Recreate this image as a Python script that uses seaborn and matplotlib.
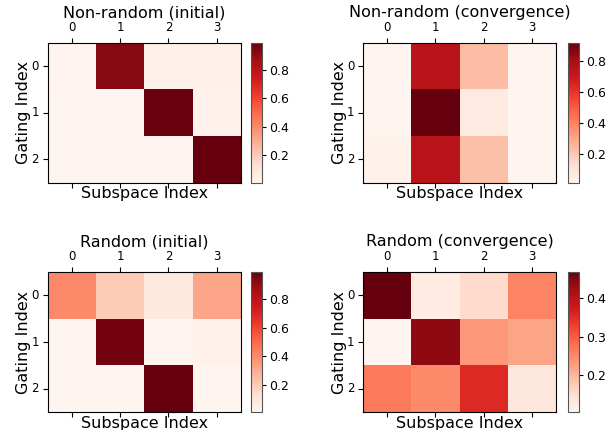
import numpy as np
import pandas as pd
import seaborn as sns
import matplotlib
matplotlib.use("Agg")
import matplotlib.pyplot as plt

subspaces = ["0", "1", "2", "3"]
gates = ["0", "1", "2"]

nonrandom_initial = [
    [0.010, 0.930, 0.030, 0.030],
    [0.004, 0.004, 0.990, 0.020],
    [0.003, 0.003, 0.004, 0.995],
]
nonrandom_convergence = [
    [0.012, 0.745, 0.235, 0.015],
    [0.015, 0.920, 0.070, 0.012],
    [0.030, 0.745, 0.226, 0.015],
]
random_initial = [
    [0.400, 0.200, 0.080, 0.320],
    [0.010, 0.960, 0.010, 0.030],
    [0.008, 0.008, 0.990, 0.010],
]
random_convergence = [
    [0.467, 0.127, 0.156, 0.257],
    [0.105, 0.438, 0.235, 0.221],
    [0.268, 0.250, 0.355, 0.134],
]

titles = ["Non-random (initial)", "Non-random (convergence)",
          "Random (initial)", "Random (convergence)"]
matrices = [nonrandom_initial, nonrandom_convergence, random_initial, random_convergence]

fig = plt.figure(figsize=(6.09, 4.30), dpi=100)

W, H = 609, 430
def frac(x0, y0, x1, y1):
    return [x0 / W, 1 - y1 / H, (x1 - x0) / W, (y1 - y0) / H]

boxes = [
    (48, 42.7, 240.7, 182.7, 250.7, 262),
    (363.3, 42.7, 555.7, 182.7, 567.7, 579),
    (48, 271.7, 240.7, 412.3, 250.7, 262),
    (363.3, 271.7, 555.7, 412.3, 567.7, 579),
]

for mat, title, (x0, y0, x1, y1, c0, c1) in zip(matrices, titles, boxes):
    ax = fig.add_axes(frac(x0, y0, x1, y1))
    cax = fig.add_axes(frac(c0, y0, c1, y1))
    df = pd.DataFrame(mat, index=gates, columns=subspaces)
    sns.heatmap(df, ax=ax, cbar_ax=cax, cmap="Reds", linewidths=0)
    for s in ax.spines.values():
        s.set_visible(True)
        s.set_linewidth(0.8)
        s.set_color("black")
    ax.xaxis.tick_top()
    ax.tick_params(axis="x", top=True, bottom=True, labeltop=True, labelbottom=False,
                   labelsize=8.5, length=3.5, pad=2.5)
    ax.tick_params(axis="y", left=True, labelsize=8.5, length=3.5, pad=3)
    ax.set_xticklabels(subspaces, rotation=0)
    ax.set_yticklabels(gates, rotation=0, va="center")
    ax.set_title(title, fontsize=11.5, pad=3)
    ax.set_xlabel("Subspace Index", fontsize=11.5, labelpad=-1)
    ax.xaxis.set_label_position("bottom")
    ax.set_ylabel("Gating Index", fontsize=11.5, labelpad=0)
    cb = ax.collections[0].colorbar
    cb.outline.set_visible(True)
    cb.outline.set_linewidth(0.8)
    cb.outline.set_edgecolor("#555555")
    cax.tick_params(labelsize=9, length=3, pad=2)

fig.savefig("out.png", dpi=100)
